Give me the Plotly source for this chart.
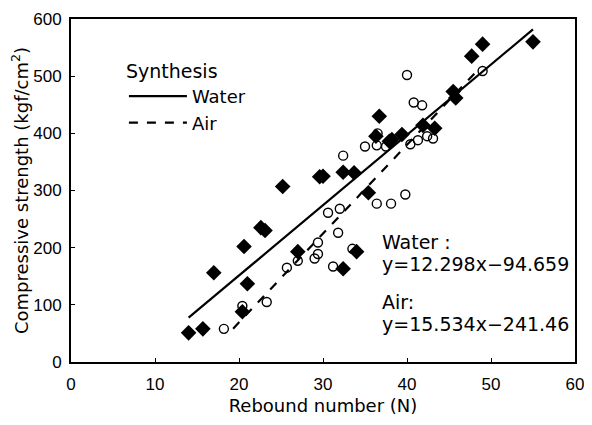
import plotly.graph_objects as go

# Water-cured specimens (filled diamonds)
water_x = [14.0, 15.7, 17.0, 20.4, 20.6, 21.0, 22.6, 23.1, 25.2, 27.0, 29.6, 30.0,
           32.4, 32.4, 33.7, 34.0, 35.4, 36.3, 36.7, 37.9, 38.2, 39.4, 41.9, 43.3,
           45.5, 45.8, 47.7, 49.0, 55.0]
water_y = [51, 58, 156, 88, 202, 137, 235, 230, 307, 193, 324, 325,
           332, 163, 331, 193, 296, 395, 430, 386, 389, 398, 414, 409,
           473, 462, 535, 556, 560]

# Air-cured specimens (open circles)
air_x = [18.2, 20.4, 23.3, 25.7, 27.0, 29.0, 29.4, 29.4, 30.6, 31.2, 31.8, 32.0,
         32.4, 33.5, 35.0, 36.4, 36.4, 36.5, 37.5, 38.1, 39.8, 40.0, 40.4, 40.8,
         41.3, 41.8, 42.4, 43.1, 49.0]
air_y = [58, 98, 105, 165, 177, 181, 189, 209, 261, 167, 226, 268,
         361, 198, 377, 379, 277, 400, 377, 277, 293, 502, 381, 454,
         388, 449, 395, 391, 509]

# regression lines printed on the chart
water_fit = (12.298, -94.659)
air_fit = (15.534, -241.46)
water_range = [14, 55]
air_range = [19.3, 48.5]

FONT = "DejaVu Sans"

fig = go.Figure()

fig.add_trace(go.Scatter(
    x=water_x, y=water_y, mode="markers", showlegend=False,
    marker=dict(symbol="diamond", size=12, color="black"),
))
fig.add_trace(go.Scatter(
    x=air_x, y=air_y, mode="markers", showlegend=False,
    marker=dict(symbol="circle-open", size=9, color="black", line=dict(width=1.4)),
))

fig.add_trace(go.Scatter(
    x=water_range, y=[water_fit[0] * v + water_fit[1] for v in water_range],
    mode="lines", name="Water", line=dict(color="black", width=2.2),
))
fig.add_trace(go.Scatter(
    x=air_range, y=[air_fit[0] * v + air_fit[1] for v in air_range],
    mode="lines", name="Air", line=dict(color="black", width=2.2, dash="dash"),
))

# fit equations
eq_font = dict(family=FONT, size=19, color="black")
for txt, yy in [("Water :", 0.35), ("y=12.298x\u221294.659", 0.285),
                ("Air:", 0.175), ("y=15.534x\u2212241.46", 0.11)]:
    fig.add_annotation(
        x=0.613, y=yy, xref="paper", yref="paper", xanchor="left", yanchor="middle",
        showarrow=False, text=txt, font=eq_font,
    )

# page body adds an 8px margin, so the figure is sized to fit inside it
fig.update_layout(
    width=584, height=417,
    paper_bgcolor="white", plot_bgcolor="white",
    margin=dict(l=63, r=17, t=11, b=63, pad=0),
    font=dict(family=FONT, size=16, color="black"),
    legend=dict(
        x=0.105, y=0.9, xanchor="left", yanchor="top",
        title=dict(text="Synthesis", font=dict(size=19), side="top"),
        font=dict(size=18), bgcolor="rgba(0,0,0,0)", tracegroupgap=0,
        itemwidth=58,
    ),
)
fig.update_xaxes(
    range=[0, 60], dtick=10, showgrid=False, zeroline=False, automargin=False,
    showline=True, linecolor="black", linewidth=2, mirror=True,
    ticks="inside", ticklen=4, tickcolor="black", ticklabelstandoff=6,
    tickfont=dict(family="Liberation Sans", size=17),
    title=dict(text="Rebound number (N)", font=dict(size=18), standoff=6),
)
fig.update_yaxes(
    range=[0, 600], dtick=100, showgrid=False, zeroline=False, automargin=False,
    showline=True, linecolor="black", linewidth=2, mirror=True,
    ticks="inside", ticklen=4, tickcolor="black", ticklabelstandoff=4,
    tickfont=dict(family="Liberation Sans", size=17),
    title=dict(text="Compressive strength (kgf/cm<sup>2</sup>)", font=dict(size=18), standoff=4),
)

fig.write_html("out.html")
